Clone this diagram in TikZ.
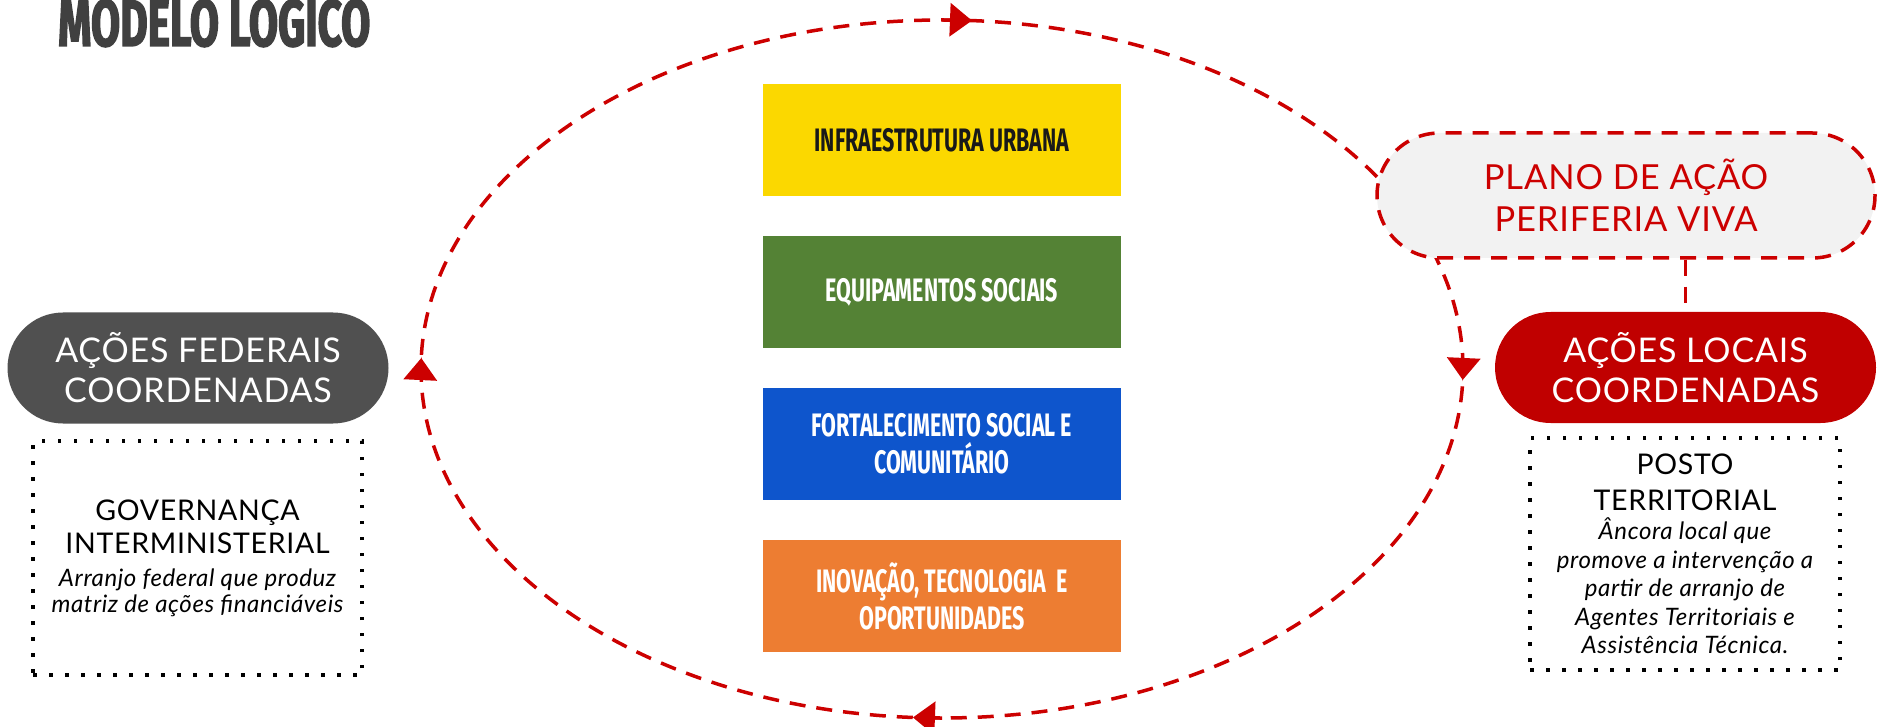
\documentclass[tikz,border=0pt]{standalone}
\usepackage{fontspec}
\setmainfont{Lato}[LetterSpace=2.5]
\newfontfamily\condfont[FakeStretch=0.66]{Fira Sans}
\newfontfamily\titlefont[FakeStretch=0.64,FakeBold=2]{Fira Sans}
\usetikzlibrary{arrows.meta}
\definecolor{redd}{RGB}{204,0,0}
\definecolor{pillred}{RGB}{192,0,0}
\definecolor{pillgray}{RGB}{80,80,80}
\definecolor{ybox}{RGB}{251,216,0}
\definecolor{gbox}{RGB}{84,130,53}
\definecolor{bbox}{RGB}{14,85,204}
\definecolor{obox}{RGB}{237,125,50}
\definecolor{planofill}{RGB}{242,242,242}
\definecolor{titlegray}{RGB}{64,64,64}
\tikzset{
 redline/.style={draw=redd, line width=3.5pt, dash pattern=on 16pt off 11pt},
 looptip/.style={draw=redd, fill=redd, line width=3.5pt, -{Triangle[length=22pt,width=33pt]}},
 pill/.style={rounded corners=55.5pt, minimum width=381pt, minimum height=111pt, text=white, align=center, font=\fontsize{34}{40}\selectfont, inner sep=0pt},
 catbox/.style={minimum width=358pt, minimum height=112pt, align=center, inner sep=0pt, font=\condfont\bfseries\fontsize{32.5}{37}\selectfont},
 dotbox/.style={draw=black, line width=3.5pt, dash pattern=on 3.5pt off 12.5pt, align=center, inner sep=0pt},
}
\begin{document}
\begin{tikzpicture}[x=1pt,y=1pt]
\useasboundingbox (0,0) rectangle (1877,-727);
% title
\node[anchor=base west, text=titlegray, font=\titlefont\bfseries\fontsize{66}{66}\selectfont, inner sep=0pt] (title) at (58,-46) {MODELO LOGICO};
% loop
\coordinate (C) at (942,-369);
\draw[redline] (C) ellipse [x radius=521, y radius=349];
\draw[looptip] (C) ++(90:521 and 349) arc[start angle=90, end angle=86.7, x radius=521, y radius=349];
\draw[looptip] (C) ++(181.5:521 and 349) arc[start angle=181.5, end angle=178.2, x radius=521, y radius=349];
\draw[looptip] (C) ++(1.5:521 and 349) arc[start angle=1.5, end angle=-1.8, x radius=521, y radius=349];
\draw[looptip] (C) ++(270:521 and 349) arc[start angle=270, end angle=266.8, x radius=521, y radius=349];
% category boxes
\node[catbox, fill=ybox, text=black!90] (infra) at (942,-140) {INFRAESTRUTURA URBANA};
\node[catbox, fill=gbox, text=white] (equip) at (942,-292) {EQUIPAMENTOS SOCIAIS};
\node[catbox, fill=bbox, text=white] (fort) at (942,-444) {FORTALECIMENTO SOCIAL E\\COMUNITÁRIO};
\node[catbox, fill=obox, text=white] (inov) at (942,-596) {INOVAÇÃO, TECNOLOGIA\ \ E\\OPORTUNIDADES};
% pills
\node[pill, fill=pillgray] (fed) at (198,-368) {AÇÕES FEDERAIS\\COORDENADAS};
\node[pill, fill=pillred] (loc) at (1685.5,-367.5) {AÇÕES LOCAIS\\COORDENADAS};
% plano
\node[redline, fill=planofill, rounded corners=62.5pt, minimum width=498pt, minimum height=125pt, text=redd, align=center, font=\fontsize{34.5}{42}\selectfont, inner sep=0pt] (plano) at (1626,-195.5) {PLANO DE AÇÃO\\PERIFERIA VIVA};
\draw[redline] (plano.south -| loc.north) -- ([yshift=8pt]loc.north);
% dotted boxes
\node[dotbox, minimum width=329pt, minimum height=234pt, font=\fontsize{24}{26}\selectfont] (gov) at (197.5,-558)
 {{\fontsize{28.5}{33}\selectfont GOVERNANÇA}\\[7pt]{\fontsize{28.5}{33}\selectfont INTERMINISTERIAL}\\[7pt]{\itshape Arranjo federal que produz}\\{\itshape matriz de ações financiáveis}};
\node[dotbox, minimum width=310pt, minimum height=232pt, font=\fontsize{24}{28.5}\selectfont] (posto) at (1685,-554)
 {{\fontsize{28.5}{33}\selectfont POSTO}\\[7.5pt]{\fontsize{28.5}{33}\selectfont TERRITORIAL}\\[0.5pt]{\itshape Âncora local que}\\{\itshape promove a intervenção a}\\{\itshape partir de arranjo de}\\{\itshape Agentes Territoriais e}\\{\itshape Assistência Técnica.}};
\end{tikzpicture}
\end{document}
